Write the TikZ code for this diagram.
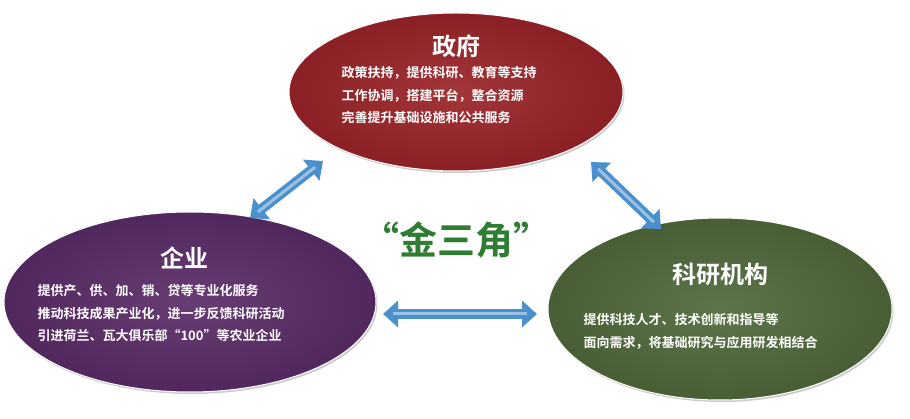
\documentclass[tikz,border=0pt]{standalone}
\usepackage{fontspec}
\newfontfamily\cjk{Noto Sans CJK SC Bold}
\usetikzlibrary{shapes.geometric,arrows.meta,shadows}
\definecolor{gov}{HTML}{9A2428}
\definecolor{ent}{HTML}{5A2C68}
\definecolor{res}{HTML}{50683A}
\definecolor{arr}{HTML}{4A90CC}
\definecolor{gold}{HTML}{2E7D32}
\tikzset{
 blob/.style={ellipse,inner sep=0pt,draw=white,line width=1pt,drop shadow={shadow xshift=1.5pt,shadow yshift=-2pt,opacity=.4}},
 ttl/.style={text=white,font=\cjk\fontsize{24}{28}\selectfont},
 body/.style={text=white,font=\cjk\fontsize{13}{22.5}\selectfont,align=left},
 dbl/.style={draw=arr,line width=10pt,{Triangle[length=15pt,width=26pt]}-{Triangle[length=15pt,width=26pt]}},
 dblin/.style={draw=arr!55!white,line width=3pt,shorten <=10pt,shorten >=10pt}
}
\begin{document}
\begin{tikzpicture}[x=1pt,y=-1pt]
\useasboundingbox (0,0) rectangle (910,419);
\fill[white] (0,0) rectangle (910,419);
\node[blob,minimum width=334pt,minimum height=158pt,inner color=gov!92!white,outer color=gov!90!black] (g) at (456,92) {};
\node[blob,minimum width=372pt,minimum height=180pt,inner color=ent!92!white,outer color=ent!90!black] (e) at (190,302) {};
\node[blob,minimum width=344pt,minimum height=182pt,inner color=res!92!white,outer color=res!90!black] (r) at (720,309) {};
\node[ttl] (gt) at (456,46) {政府};
\node[body,anchor=north west] (gb) at (338,63) {政策扶持，提供科研、教育等支持\\工作协调，搭建平台，整合资源\\完善提升基础设施和公共服务};
\node[ttl] (et) at (184,258) {企业};
\node[body,anchor=north west] (eb) at (34,281) {提供产、供、加、销、贷等专业化服务\\推动科技成果产业化，进一步反馈科研活动\\引进荷兰、瓦大俱乐部“100”等农业企业};
\node[ttl] (rt) at (720,274) {科研机构};
\node[body,anchor=north west] (rb) at (580,310) {提供科技人才、技术创新和指导等\\面向需求，将基础研究与应用研发相结合};
\node[text=gold,font=\cjk\fontsize{38}{42}\selectfont] (gold) at (456,240) {“金三角”};
\coordinate (a1s) at (250,218); \coordinate (a1e) at (323,161);
\coordinate (a2s) at (591,162); \coordinate (a2e) at (661,229);
\coordinate (a3s) at (383,314); \coordinate (a3e) at (537,314);
\foreach \s/\e in {a1s/a1e,a2s/a2e,a3s/a3e}{
 \draw[dbl] (\s) -- (\e);
 \draw[dblin] (\s) -- (\e);
}
\end{tikzpicture}
\end{document}
